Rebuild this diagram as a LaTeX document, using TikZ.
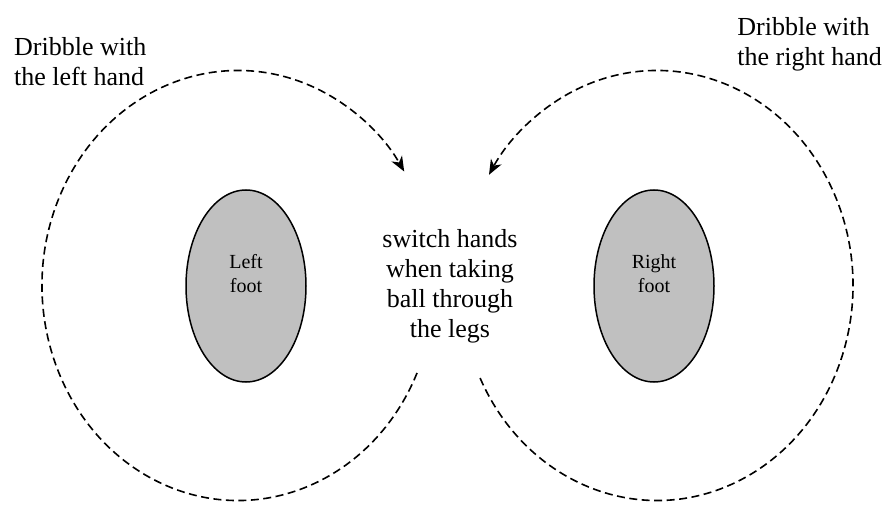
\documentclass[tikz,border=0pt]{standalone}
\usepackage{fontspec}
\setmainfont{Liberation Serif}
\usetikzlibrary{arrows.meta,shapes.geometric}
\tikzset{
  foot/.style={ellipse,draw,line width=1.5pt,fill=footgray,minimum width=120pt,minimum height=192pt,inner sep=0pt},
  footlbl/.style={align=center,inner sep=0pt,font=\fontsize{20}{24}\selectfont},
  lbl/.style={inner sep=0pt,font=\fontsize{26}{30}\selectfont},
  loop/.style={line width=1.6pt,dash pattern=on 8pt off 4.5pt,-{Stealth[length=15pt,width=12pt,inset=4.5pt]}}
}
\definecolor{footgray}{HTML}{C0C0C0}
\begin{document}
\begin{tikzpicture}[x=1pt,y=1pt]
            \useasboundingbox (0,0) rectangle (887,504);
            \coordinate (lc) at (238,218.5);
            \coordinate (rc) at (657,218.5);
            \node[foot] (lfoot) at (246,218) {};
            \node[foot] (rfoot) at (654,218) {};
            \node[footlbl] at ([yshift=12pt]lfoot.center) {Left\\foot};
            \node[footlbl] at ([yshift=12pt]rfoot.center) {Right\\foot};
            \draw[loop] ([shift={(-24:196 and 215)}]lc) arc[start angle=-24,end angle=-328,x radius=196,y radius=215];
            \draw[loop] ([shift={(205.5:196 and 215)}]rc) arc[start angle=205.5,end angle=509,x radius=196,y radius=215];
            \node[lbl,align=center] (sw) at (450,217.6) {switch hands\\when taking\\ball through\\the legs};
            \node[lbl,align=left,anchor=north west] (ldr) at (14,466.5) {Dribble with\\the left hand};
            \node[lbl,align=left,anchor=north east] (rdr) at (882,486.5) {Dribble with\\the right hand};
        \end{tikzpicture}
\end{document}
